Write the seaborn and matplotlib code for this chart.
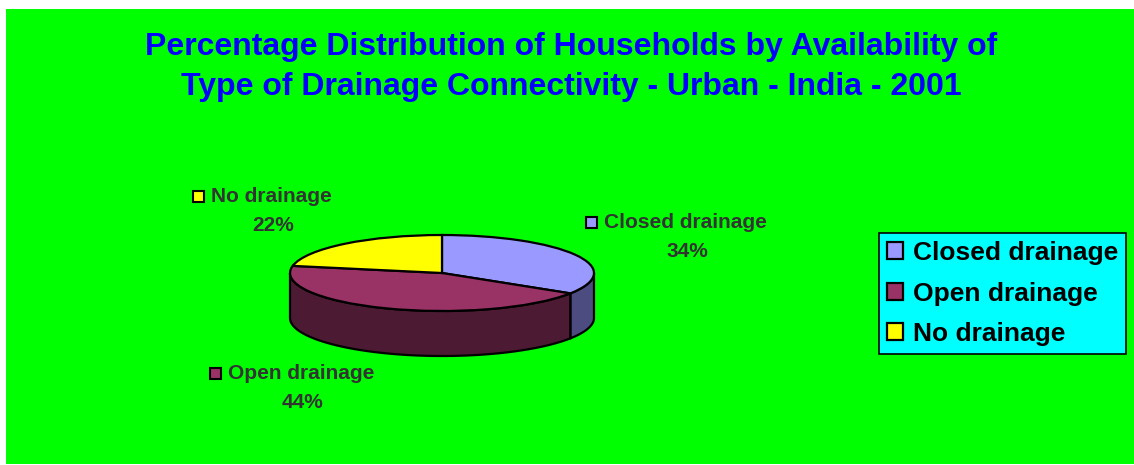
import numpy as np
import matplotlib
matplotlib.use("Agg")
import matplotlib.pyplot as plt
from matplotlib.patches import Rectangle, Polygon
import seaborn as sns

# ---------------------------------------------------------
# data
# ---------------------------------------------------------
categories = ["Closed drainage", "Open drainage", "No drainage"]
shares = [34, 44, 22]
top_colors = ["#9999FF", "#993366", "#FFFF00"]
side_colors = ["#4C4C80", "#4D1A33", "#808000"]
title = ("Percentage Distribution of Households by Availability of\n"
         "Type of Drainage Connectivity - Urban - India - 2001")

# ---------------------------------------------------------
# style
# ---------------------------------------------------------
sns.set_style("white")
plt.rcParams["font.family"] = ["Liberation Sans", "DejaVu Sans"]
plt.rcParams["font.weight"] = "bold"

W, H = 1134, 465
fig = plt.figure(figsize=(W / 100, H / 100), dpi=100)
fig.patch.set_facecolor("white")

# overlay axes in pixel units (background, title, labels)
ov = fig.add_axes([0, 0, 1, 1], zorder=0)
ov.set_xlim(0, W)
ov.set_ylim(H, 0)
ov.axis("off")
ov.add_patch(Rectangle((6, 9), W - 6, 455, facecolor="#00FF00", edgecolor="none"))

ov.text(571, 67, title, ha="center", va="center", fontsize=23, color="#0000FF",
        fontweight="bold", linespacing=1.42)

# ---------------------------------------------------------
# 3D-looking pie
# ---------------------------------------------------------
px_l, px_r, px_t, px_b = 290, 594, 235, 311
ax = fig.add_axes([px_l / W, 1 - px_b / H, (px_r - px_l) / W, (px_b - px_t) / H], zorder=1)
wedges, _ = ax.pie(shares, colors=top_colors, startangle=90, counterclock=False,
                   wedgeprops=dict(edgecolor="black", linewidth=1.6))
ax.set_aspect("auto")
ax.set_xlim(-1, 1)
ax.set_ylim(-1, 1)
ax.axis("off")

depth = 45 / ((px_b - px_t) / 2)
for w, sc in zip(wedges, side_colors):
    w.set_zorder(3)
    lo = w.theta1 % 360
    hi = lo + (w.theta2 - w.theta1)
    for a, b in [(180, 360), (540, 720)]:
        s, e = max(lo, a), min(hi, b)
        if e <= s:
            continue
        t = np.radians(np.linspace(s, e, 200))
        xs = np.cos(t)
        ys = np.sin(t)
        pts = np.concatenate([np.column_stack([xs, ys]),
                              np.column_stack([xs[::-1], ys[::-1] - depth])])
        ax.add_patch(Polygon(pts, closed=True, facecolor=sc, edgecolor="black",
                             linewidth=1.6, zorder=2, clip_on=False))
for w in wedges:
    w.set_clip_on(False)

# ---------------------------------------------------------
# data labels
# ---------------------------------------------------------
label_pos = {
    "Closed drainage": (591, 222, 687, 251),
    "Open drainage": (215, 373, 303, 402),
    "No drainage": (198, 196, 273, 225),
}
for cat, share, col in zip(categories, shares, top_colors):
    sx, sy, px, py = label_pos[cat]
    ov.add_patch(Rectangle((sx - 5.5, sy - 5.5), 11, 11, facecolor=col,
                           edgecolor="black", linewidth=1.5))
    ov.text(sx + 13, sy, cat, ha="left", va="center", fontsize=15,
            color="#333333", fontweight="bold")
    ov.text(px, py, f"{share}%", ha="center", va="center", fontsize=15,
            color="#333333", fontweight="bold")

# ---------------------------------------------------------
# legend
# ---------------------------------------------------------
leg = fig.legend(wedges, categories, loc="upper left",
                 bbox_to_anchor=(879 / W, 1 - 233 / H), bbox_transform=fig.transFigure,
                 borderaxespad=0, frameon=True, fancybox=False, shadow=False,
                 facecolor="#00FFFF", edgecolor="black", framealpha=1,
                 prop=dict(size=19, weight="bold"), labelcolor="black",
                 handlelength=0.6, handleheight=0.6, handletextpad=0.4,
                 labelspacing=0.63, borderpad=0.3)
leg.get_frame().set_linewidth(1.2)
leg.set_zorder(5)

fig.savefig("out.png", dpi=100, facecolor=fig.get_facecolor())
